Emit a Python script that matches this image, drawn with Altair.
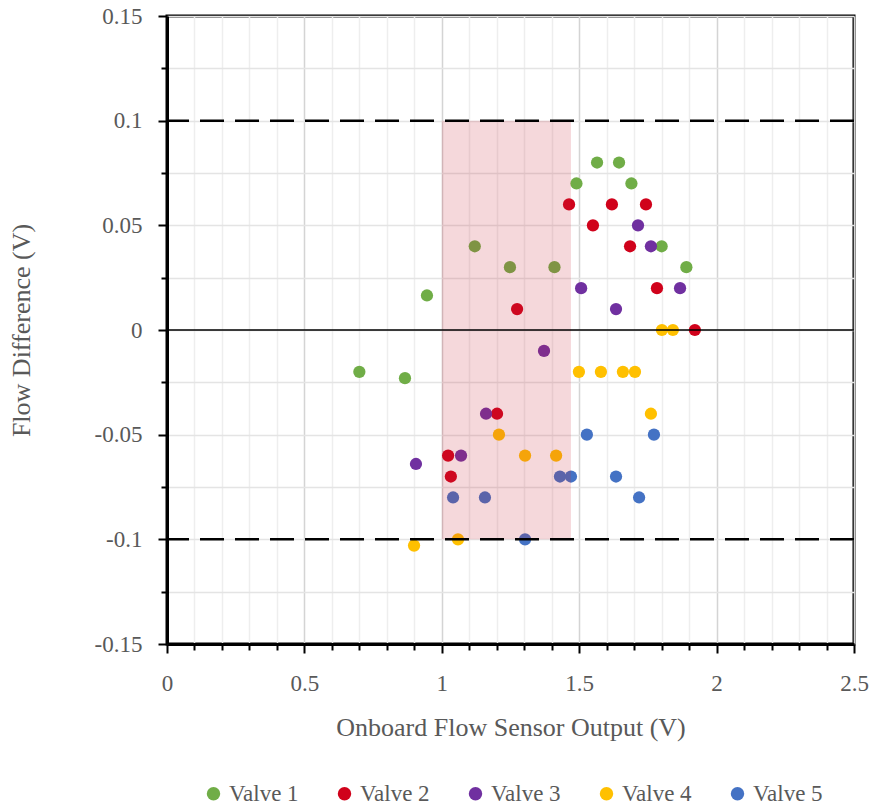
import altair as alt
import pandas as pd

valve_names = ["Valve 1", "Valve 2", "Valve 3", "Valve 4", "Valve 5"]
valve_colors = ["#70ad47", "#d0021b", "#7030a0", "#ffc000", "#4472c4"]

v1_x = [0.70, 0.866, 0.946, 1.12, 1.248, 1.41, 1.49, 1.565, 1.645, 1.69, 1.80, 1.89]
v1_y = [-0.02, -0.023, 0.0165, 0.04, 0.03, 0.03, 0.07, 0.08, 0.08, 0.07, 0.04, 0.03]
v2_x = [1.463, 1.619, 1.743, 1.55, 1.685, 1.783, 1.921, 1.274, 1.201, 1.023, 1.033]
v2_y = [0.06, 0.06, 0.06, 0.05, 0.04, 0.02, 0.0, 0.01, -0.04, -0.06, -0.07]
v3_x = [1.714, 1.761, 1.507, 1.634, 1.867, 1.372, 1.161, 1.07, 0.906]
v3_y = [0.05, 0.04, 0.02, 0.01, 0.02, -0.01, -0.04, -0.06, -0.064]
v4_x = [1.801, 1.841, 1.499, 1.579, 1.659, 1.703, 1.761, 1.208, 1.303, 1.416, 0.899, 1.059]
v4_y = [0.0, 0.0, -0.02, -0.02, -0.02, -0.02, -0.04, -0.05, -0.06, -0.06, -0.103, -0.1]
v5_x = [1.528, 1.772, 1.43, 1.47, 1.634, 1.718, 1.041, 1.157, 1.303]
v5_y = [-0.05, -0.05, -0.07, -0.07, -0.07, -0.08, -0.08, -0.08, -0.1]

x_ticks = [0.0, 0.1, 0.2, 0.3, 0.4, 0.5, 0.6, 0.7, 0.8, 0.9, 1.0, 1.1, 1.2, 1.3,
           1.4, 1.5, 1.6, 1.7, 1.8, 1.9, 2.0, 2.1, 2.2, 2.3, 2.4, 2.5]
y_ticks = [-0.15, -0.125, -0.1, -0.075, -0.05, -0.025, 0.0, 0.025, 0.05,
           0.075, 0.1, 0.125, 0.15]

limit_lines = [0.1, -0.1]
zero_line = [0.0]
band_x = [1.0, 1.47]
band_y = [-0.1, 0.1]

rows = []
for name, xs_, ys_ in zip(valve_names, [v1_x, v2_x, v3_x, v4_x, v5_x],
                          [v1_y, v2_y, v3_y, v4_y, v5_y]):
    for a, b in zip(xs_, ys_):
        rows.append({"valve": name, "x": a, "y": b})
df = pd.DataFrame(rows)

FONT = "Liberation Serif"
GREY = "#595959"

x_major = "abs(datum.value*2 - round(datum.value*2)) < 1e-6"
y_major = "abs(datum.value*20 - round(datum.value*20)) < 1e-6"

x_axis = alt.Axis(
    values=x_ticks,
    labelExpr=f"{x_major} ? '' + datum.value : ''",
    labelOverlap=False,
    title="Onboard Flow Sensor Output (V)",
    grid=True,
    gridColor={"condition": {"test": x_major, "value": "#d4d4d4"}, "value": "#eeeeee"},
    gridWidth=1.5,
    tickSize={"condition": {"test": x_major, "value": 9}, "value": 6},
    tickColor="black", tickWidth=2,
    domainColor="black", domainWidth=3,
    labelFont=FONT, labelFontSize=23, labelColor=GREY, labelPadding=19,
    labelFlush=False,
    titleFont=FONT, titleFontSize=26, titleColor=GREY, titleFontWeight="normal",
    titlePadding=19,
)
y_axis = alt.Axis(
    values=y_ticks,
    labelExpr=f"{y_major} ? '' + datum.value : ''",
    labelOverlap=False,
    title="Flow Difference (V)",
    grid=True, gridColor="#e4e4e4", gridWidth=1.5,
    tickSize={"condition": {"test": y_major, "value": 9}, "value": 6},
    tickColor="black", tickWidth=2,
    domainColor="black", domainWidth=3,
    labelFont=FONT, labelFontSize=23, labelColor=GREY, labelPadding=16,
    labelFlush=False,
    titleFont=FONT, titleFontSize=26, titleColor=GREY, titleFontWeight="normal",
    titlePadding=60,
)

xs = alt.Scale(domain=[0, 2.5], nice=False, zero=False)
ys = alt.Scale(domain=[-0.15, 0.15], nice=False, zero=False)


def X(field):
    return alt.X(field, scale=xs, axis=x_axis, title="Onboard Flow Sensor Output (V)")


def Y(field):
    return alt.Y(field, scale=ys, axis=y_axis, title="Flow Difference (V)")


points = alt.Chart(df).mark_circle(size=150, opacity=1).encode(
    x=X("x:Q"),
    y=Y("y:Q"),
    color=alt.Color(
        "valve:N",
        scale=alt.Scale(domain=valve_names, range=valve_colors),
        legend=alt.Legend(
            title=None, orient="none", direction="horizontal", columns=5,
            legendX=35, legendY=766,
            symbolType="circle", symbolSize=180, symbolOpacity=1,
            labelFont=FONT, labelFontSize=23, labelColor=GREY,
            columnPadding=34, labelOffset=4,
        ),
    ),
)

band = alt.Chart(pd.DataFrame({"x": [band_x[0]], "x2": [band_x[1]],
                               "y": [band_y[0]], "y2": [band_y[1]]})).mark_rect(
    color="#c62637", opacity=0.18
).encode(x=X("x:Q"), x2="x2:Q", y=Y("y:Q"), y2="y2:Q")

dashes = alt.Chart(pd.DataFrame({"y": limit_lines})).mark_rule(
    color="black", strokeWidth=2.5, strokeDash=[24, 11]
).encode(y=Y("y:Q"))

zero = alt.Chart(pd.DataFrame({"y": zero_line})).mark_rule(
    color="black", strokeWidth=1.5
).encode(y=Y("y:Q"))

chart = alt.layer(points, band, zero, dashes).properties(
    width=687, height=628,
    autosize=alt.AutoSizeParams(type="none"),
    padding={"left": 167, "top": 16, "right": 20, "bottom": 165},
).configure_view(stroke="black", strokeWidth=3)

chart.save("out.html", embed_options={"renderer": "svg", "actions": False})
